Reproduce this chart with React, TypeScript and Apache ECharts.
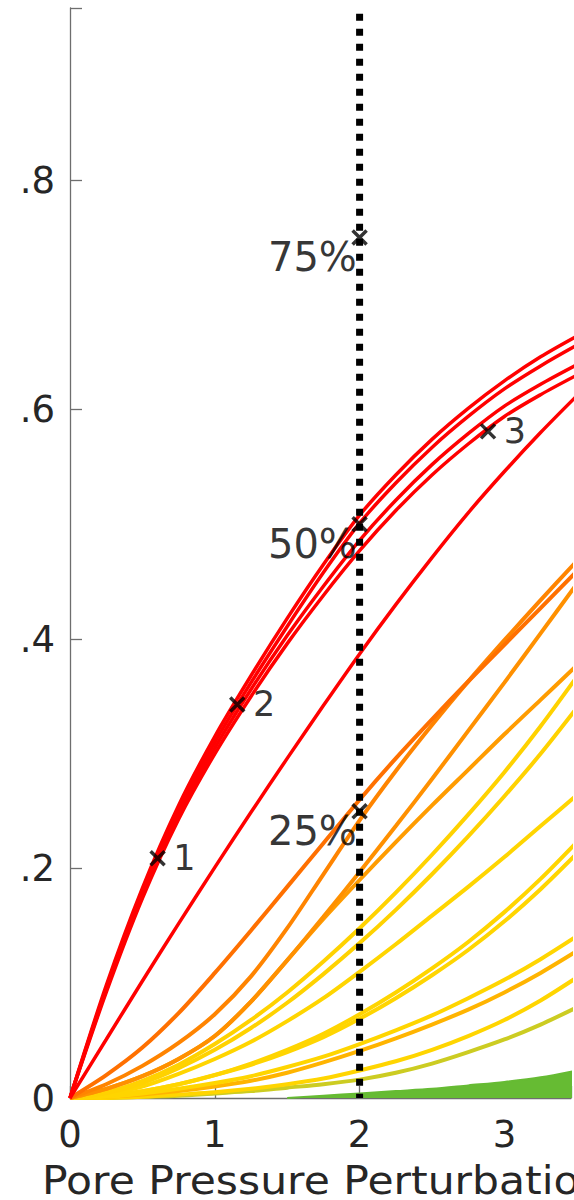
import React, { useEffect, useRef } from "react";
import * as echarts from "echarts";

// Shared abscissa for every curve (pore pressure perturbation)
const xs = [0, 0.25, 0.5, 0.75, 1, 1.25, 1.5, 1.75, 2, 2.25, 2.5, 2.75, 3, 3.25, 3.5];

// Red family
const redA = [0, 0.098, 0.183, 0.255, 0.315, 0.368, 0.418, 0.465, 0.508, 0.543, 0.574, 0.601, 0.625, 0.646, 0.664];
const redB = [0, 0.096, 0.18, 0.251, 0.31, 0.362, 0.411, 0.458, 0.501, 0.536, 0.567, 0.594, 0.618, 0.638, 0.656];
const redC = [0, 0.094, 0.177, 0.247, 0.305, 0.356, 0.403, 0.446, 0.486, 0.521, 0.552, 0.579, 0.603, 0.622, 0.639];
const redD = [0, 0.092, 0.174, 0.243, 0.3, 0.35, 0.396, 0.438, 0.477, 0.512, 0.543, 0.57, 0.594, 0.613, 0.63];
const redE = [0, 0.051, 0.102, 0.152, 0.201, 0.249, 0.296, 0.342, 0.387, 0.43, 0.471, 0.51, 0.546, 0.58, 0.612];

// Orange family
const orangeA = [0, 0.02, 0.044, 0.074, 0.109, 0.146, 0.184, 0.222, 0.26, 0.296, 0.33, 0.363, 0.395, 0.427, 0.459];
const orangeB = [0, 0.012, 0.028, 0.048, 0.073, 0.106, 0.148, 0.195, 0.242, 0.285, 0.325, 0.363, 0.399, 0.434, 0.468];
const orangeC = [0, 0.008, 0.019, 0.034, 0.054, 0.084, 0.12, 0.158, 0.197, 0.237, 0.278, 0.32, 0.362, 0.405, 0.448];
const amberA = [0, 0.008, 0.019, 0.034, 0.054, 0.084, 0.12, 0.156, 0.19, 0.223, 0.255, 0.286, 0.317, 0.347, 0.377];

// Yellow family
const yellowA = [0, 0.005, 0.015, 0.029, 0.047, 0.068, 0.092, 0.119, 0.148, 0.179, 0.212, 0.247, 0.284, 0.324, 0.367];
const yellowB = [0, 0.004, 0.013, 0.026, 0.042, 0.061, 0.083, 0.108, 0.135, 0.164, 0.195, 0.228, 0.263, 0.3, 0.34];
const yellowC = [0, 0.003, 0.01, 0.021, 0.034, 0.049, 0.067, 0.087, 0.11, 0.134, 0.159, 0.184, 0.21, 0.237, 0.264];
const yellowD = [0, 0.002, 0.006, 0.012, 0.02, 0.03, 0.042, 0.056, 0.073, 0.092, 0.113, 0.136, 0.162, 0.191, 0.223];
const yellowE = [0, 0.002, 0.006, 0.012, 0.02, 0.029, 0.04, 0.053, 0.069, 0.087, 0.107, 0.129, 0.154, 0.182, 0.213];
const yellowF = [0, 0.001, 0.004, 0.008, 0.013, 0.019, 0.027, 0.036, 0.047, 0.059, 0.072, 0.087, 0.103, 0.121, 0.141];
const amberB = [0, 0.001, 0.003, 0.006, 0.01, 0.015, 0.022, 0.031, 0.041, 0.052, 0.064, 0.077, 0.092, 0.109, 0.128];
const yellowG = [0, 0, 0.001, 0.003, 0.005, 0.008, 0.012, 0.017, 0.024, 0.032, 0.042, 0.054, 0.068, 0.085, 0.105];
const olive = [0, 0, 0.001, 0.002, 0.004, 0.006, 0.009, 0.012, 0.016, 0.022, 0.03, 0.04, 0.051, 0.064, 0.079];

// Green band near zero
const greenX = [1.5, 1.75, 2, 2.25, 2.5, 2.75, 3, 3.25, 3.5];
const greenY = [0, 0.002, 0.004, 0.006, 0.008, 0.011, 0.014, 0.018, 0.024];

// Numbered points
const pointX = [0.605, 1.155, 2.887];
const pointY = [0.209, 0.343, 0.581];
const pointNames = ["1", "2", "3"];

// Quantile markers on the reference perturbation
const refX = 2;
const quantiles = [0.75, 0.5, 0.25];
const refTop = 0.945;

const curves: { data: number[]; color: string; width: number }[] = [
  { data: olive, color: "#cccc22", width: 4 },
  { data: yellowG, color: "#ffd500", width: 4 },
  { data: amberB, color: "#ffb400", width: 4 },
  { data: yellowF, color: "#ffd500", width: 4 },
  { data: yellowE, color: "#ffd500", width: 4 },
  { data: yellowD, color: "#ffd500", width: 4 },
  { data: yellowC, color: "#ffd500", width: 4 },
  { data: yellowB, color: "#ffd200", width: 4 },
  { data: yellowA, color: "#ffd200", width: 4 },
  { data: amberA, color: "#ff9c00", width: 4 },
  { data: orangeC, color: "#ff9000", width: 4 },
  { data: orangeB, color: "#ff8400", width: 4 },
  { data: orangeA, color: "#ff7000", width: 4 },
  { data: redE, color: "#ff0000", width: 3.5 },
  { data: redD, color: "#ff0000", width: 3.5 },
  { data: redC, color: "#ff0000", width: 3.5 },
  { data: redB, color: "#ff0000", width: 3.5 },
  { data: redA, color: "#ff0000", width: 3.5 },
];

const FONT = "DejaVu Sans";
const INK = "#262626";
const AXIS = "#6e6e6e";
const CROSS = "path://M0,0L10,10M10,0L0,10";

const tickLabel = (v: number) => {
  const r = Math.round(v * 10) / 10;
  if (Math.abs(v - r) > 1e-6) return "";
  if (r === 0) return "0";
  return r.toFixed(1).replace(/^0/, "");
};

export default function App() {
  const ref = useRef<HTMLDivElement>(null);

  useEffect(() => {
    if (!ref.current) return;
    const chart = echarts.init(ref.current, undefined, { renderer: "svg" });

    const lineSeries = curves.map((c) => ({
      type: "line",
      data: xs.map((x, i) => [x, c.data[i]]),
      showSymbol: false,
      smooth: 0.3,
      clip: true,
      lineStyle: { color: c.color, width: c.width },
      silent: true,
      z: 2,
    }));

    chart.setOption({
      animation: false,
      backgroundColor: "#ffffff",
      grid: { left: 70, right: 0, top: 8, bottom: 102, containLabel: false },
      xAxis: {
        type: "value",
        min: 0,
        max: 3.46,
        interval: 1,
        splitLine: { show: false },
        axisLine: { show: true, lineStyle: { color: AXIS, width: 1.3 } },
        axisTick: { show: true, inside: true, length: 12, lineStyle: { color: AXIS, width: 1.3 } },
        axisLabel: {
          formatter: (v: number) => (Math.abs(v - Math.round(v)) < 1e-6 ? String(Math.round(v)) : ""),
          fontFamily: FONT,
          fontSize: 37,
          color: INK,
          margin: 18,
        },
      },
      yAxis: {
        type: "value",
        min: 0,
        max: 0.95,
        interval: 0.2,
        splitLine: { show: false },
        axisLine: { show: true, lineStyle: { color: AXIS, width: 1.3 } },
        axisTick: { show: true, inside: true, length: 12, lineStyle: { color: AXIS, width: 1.3 } },
        axisLabel: {
          formatter: tickLabel,
          fontFamily: FONT,
          fontSize: 37,
          color: INK,
          margin: 15,
        },
      },
      graphic: [
        {
          type: "text",
          x: 42,
          y: 1161,
          scaleX: 1.09,
          style: {
            text: "Pore Pressure Perturbation",
            font: `39px "${FONT}"`,
            fill: INK,
            textVerticalAlign: "top",
          },
        },
      ],
      series: [
        ...lineSeries,
        {
          type: "line",
          data: greenX.map((x, i) => [x, greenY[i]]),
          showSymbol: false,
          smooth: 0.3,
          lineStyle: { color: "#66bb33", width: 2 },
          areaStyle: { color: "#66bb33", opacity: 1 },
          silent: true,
          z: 3,
        },
        {
          type: "line",
          data: [
            [refX, refTop],
            [refX, 0],
          ],
          showSymbol: false,
          lineStyle: { color: "#000000", width: 7, type: [7, 8], cap: "butt" },
          silent: true,
          z: 4,
        },
        {
          type: "scatter",
          data: quantiles.map((q) => [refX, q]),
          symbol: CROSS,
          symbolSize: 14,
          itemStyle: { color: "rgba(0,0,0,0)", borderColor: "#000000", borderWidth: 3.5 },
          label: {
            show: true,
            position: "left",
            distance: 0,
            offset: [6, 20],
            formatter: (p: any) => `${Math.round(p.value[1] * 100)}%`,
            fontFamily: FONT,
            fontSize: 40,
            color: "#000000",
          },
          silent: true,
          z: 5,
        },
        {
          type: "scatter",
          data: pointX.map((x, i) => [x, pointY[i]]),
          symbol: CROSS,
          symbolSize: 14,
          itemStyle: { color: "rgba(0,0,0,0)", borderColor: "#000000", borderWidth: 3.5 },
          label: {
            show: true,
            position: "right",
            distance: 7,
            formatter: (p: any) => pointNames[p.dataIndex],
            fontFamily: FONT,
            fontSize: 35,
            color: "#000000",
          },
          silent: true,
          z: 5,
        },
      ],
    });

    return () => chart.dispose();
  }, []);

  return (
    <div
      ref={ref}
      style={{ position: "absolute", left: 0, top: 0, width: 574, height: 1200, background: "#fff" }}
    />
  );
}
